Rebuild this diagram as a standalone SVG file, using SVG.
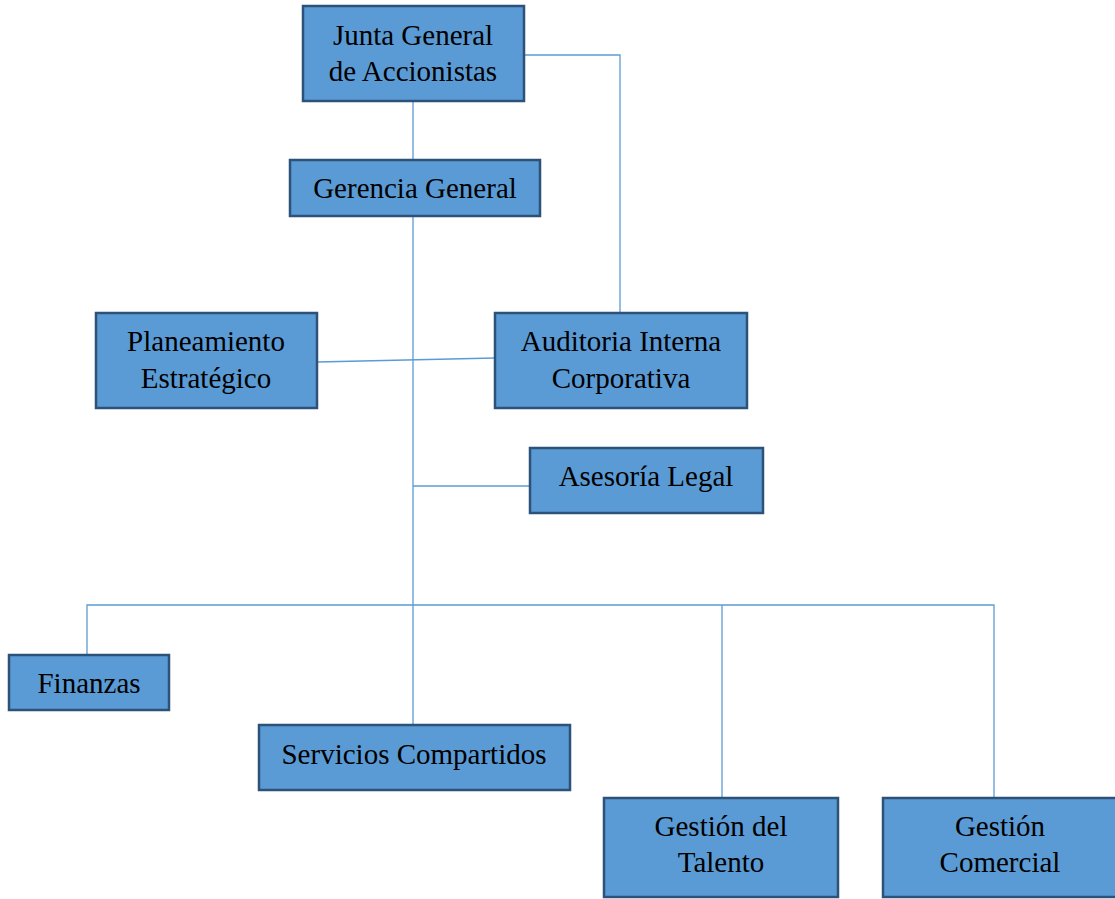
<svg xmlns="http://www.w3.org/2000/svg" width="1115" height="899" viewBox="0 0 1115 899">
<style>
.box{fill:#5B9BD5;stroke:#2C5279;stroke-width:2.5}
.t{font-family:"Liberation Serif","Times New Roman",serif;font-size:29px;fill:#000;text-anchor:middle}
.c{fill:none;stroke:#5B9BD5;stroke-width:1.3}
</style>
<rect width="1115" height="899" fill="#fff"/>
<g id="connectors">
<polyline class="c" points="524,55 620,55 620,313"/>
<line class="c" x1="413" y1="101" x2="413" y2="725"/>
<line class="c" x1="317" y1="362" x2="495" y2="358"/>
<line class="c" x1="413" y1="486" x2="530" y2="486"/>
<polyline class="c" points="87,655 87,605 994,605 994,798"/>
<line class="c" x1="722" y1="605" x2="722" y2="798"/>
</g>
<g id="junta"><rect class="box" x="303" y="6" width="221" height="95"/><text class="t" x="413" y="45">Junta General</text><text class="t" x="413" y="81">de Accionistas</text></g>
<g id="gerencia"><rect class="box" x="290" y="160" width="250" height="56"/><text class="t" x="415" y="198">Gerencia General</text></g>
<g id="planeamiento"><rect class="box" x="96" y="313" width="221" height="95"/><text class="t" x="206" y="351">Planeamiento</text><text class="t" x="206" y="388">Estratégico</text></g>
<g id="auditoria"><rect class="box" x="495" y="313" width="252" height="95"/><text class="t" x="621" y="351">Auditoria Interna</text><text class="t" x="621" y="388">Corporativa</text></g>
<g id="asesoria"><rect class="box" x="530" y="448" width="233" height="65"/><text class="t" x="646" y="486">Asesoría Legal</text></g>
<g id="finanzas"><rect class="box" x="9" y="655" width="160" height="55"/><text class="t" x="89" y="693">Finanzas</text></g>
<g id="servicios"><rect class="box" x="259" y="725" width="311" height="65"/><text class="t" x="414" y="764">Servicios Compartidos</text></g>
<g id="talento"><rect class="box" x="604" y="798" width="234" height="99"/><text class="t" x="721" y="836">Gestión del</text><text class="t" x="721" y="872">Talento</text></g>
<g id="comercial"><rect class="box" x="883" y="798" width="234" height="99"/><text class="t" x="1000" y="836">Gestión</text><text class="t" x="1000" y="872">Comercial</text></g>
</svg>
